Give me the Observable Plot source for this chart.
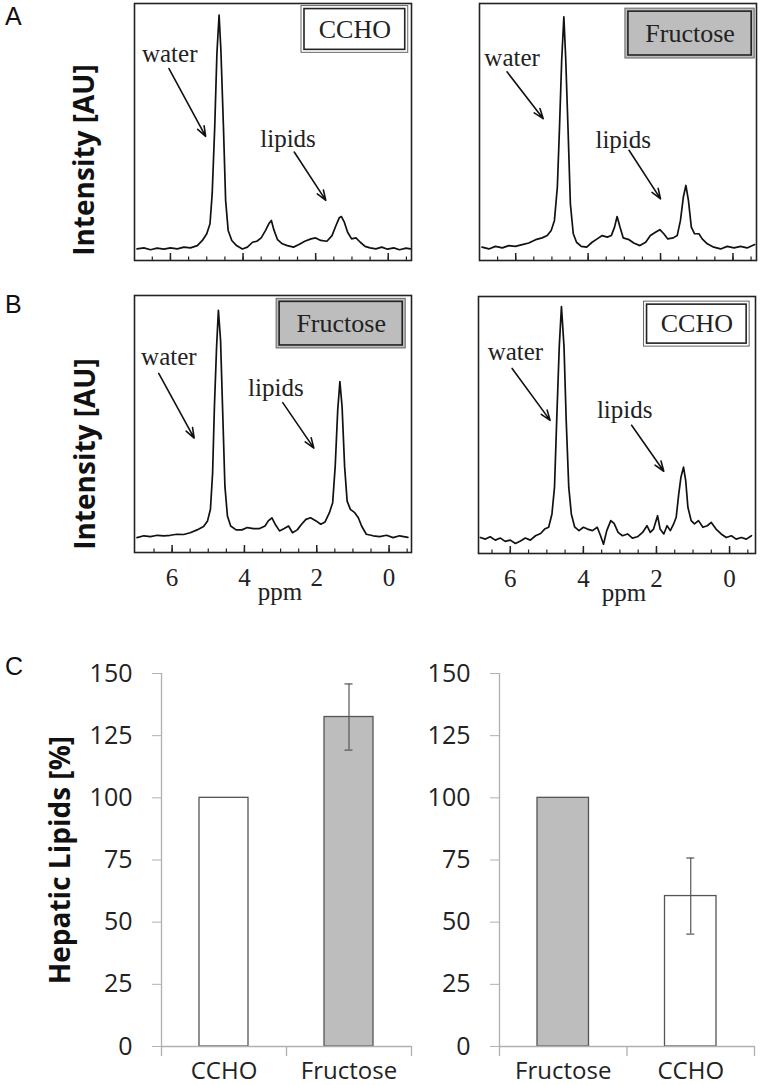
<!DOCTYPE html>
<html><head><meta charset="utf-8">
<script src="https://cdn.jsdelivr.net/npm/d3@7"></script>
<script src="https://cdn.jsdelivr.net/npm/@observablehq/plot@0.6"></script>
<style>
body{margin:0;background:#fff;}
#fig{position:relative;width:762px;height:1085px;overflow:hidden;background:#fff;}
.letter{font-family:"Liberation Sans",Arial,sans-serif;font-size:25px;line-height:1;color:#111;}
.ylab{font-family:"Open Sans",sans-serif;font-weight:700;font-size:28px;line-height:1;color:#111;white-space:nowrap;transform:translate(-50%,-50%) rotate(-90deg);}
svg{overflow:visible;}
</style></head>
<body><div id="fig"></div>
<script>
// ---------- Spectra data (ppm, intensity AU 0-100) ----------
const specA1_ppm = [6.92,6.73,6.55,6.37,6.18,6.00,5.81,5.63,5.45,5.26,5.12,5.00,4.91,4.85,4.78,4.72,4.66,4.61,4.54,4.48,4.41,4.31,4.18,4.02,3.88,3.74,3.62,3.50,3.38,3.28,3.22,3.15,3.05,2.92,2.78,2.61,2.46,2.30,2.13,2.00,1.86,1.69,1.55,1.44,1.35,1.29,1.21,1.12,1.01,0.89,0.77,0.64,0.50,0.34,0.18,0.02,-0.15,-0.31,-0.49,-0.61];
const specA1_int = [4.5,4.9,4.2,4.8,4.4,4.9,4.5,5.2,4.9,5.8,7.8,10.4,14.3,26,52,80.5,95.5,81.8,52,23.4,11.7,7.8,5.8,4.5,5.2,7.1,7.5,8.8,11.7,14.5,15.6,11.9,8.1,6.5,5.8,5.2,6.2,7.5,8.4,8.8,7.8,7.5,9.7,13.6,16.6,17.1,14.9,11.0,8.4,8.8,7.1,5.5,4.9,4.5,5.2,4.4,4.9,4.2,4.8,4.5];

const specA2_ppm = [6.93,6.74,6.56,6.37,6.19,6.01,5.82,5.64,5.45,5.27,5.13,5.02,4.93,4.85,4.79,4.73,4.67,4.62,4.55,4.49,4.41,4.32,4.19,4.04,3.89,3.75,3.61,3.47,3.36,3.27,3.20,3.12,3.03,2.87,2.74,2.57,2.41,2.28,2.14,2.02,1.91,1.80,1.65,1.54,1.45,1.37,1.30,1.23,1.15,1.06,0.94,0.85,0.71,0.53,0.34,0.16,-0.03,-0.21,-0.39,-0.60];
const specA2_int = [5.2,4.5,5.5,4.9,5.8,5.5,6.2,6.8,8.1,8.8,9.7,11.7,15.6,28.6,52,78,94.8,79,49,22,10.4,7.1,5.5,5.2,7.1,8.4,9.7,9.1,9.7,13,17.1,13,8.8,8.1,6.8,5.8,7.1,9.7,11,12,10.4,8.4,8.8,9.7,15.6,24.7,29.2,23.4,13,10.4,10.4,8.4,6.5,5.2,4.5,5.5,4.9,5.5,4.9,6.2];

const specB1_ppm = [6.97,6.78,6.60,6.41,6.23,6.05,5.86,5.68,5.50,5.31,5.13,5.02,4.94,4.88,4.83,4.77,4.72,4.66,4.60,4.54,4.47,4.38,4.23,4.07,3.92,3.75,3.58,3.43,3.34,3.24,3.15,3.03,2.90,2.78,2.67,2.54,2.42,2.30,2.17,2.02,1.89,1.77,1.65,1.56,1.49,1.42,1.36,1.30,1.23,1.16,1.07,0.95,0.85,0.76,0.63,0.44,0.26,0.07,-0.11,-0.29,-0.52];
const specB1_int = [5.8,6.5,6.2,6.7,6.5,6.7,7.1,7.0,7.7,8.8,10.1,12.3,16.8,31,56.8,80,94.2,82.6,54.2,25.8,14.2,10.3,8.8,8.8,9.7,9.3,9.3,10.3,12.3,13.5,11,8.4,9.3,10.3,7.7,8.8,11,12.9,13.5,12.3,11,11.9,15.5,19.4,33.5,55.5,66.5,56.8,33.5,20,16.8,15.5,13.5,10.3,7.1,6.5,6.2,6.7,5.8,6.5,5.9];

const specB2_ppm = [6.82,6.68,6.55,6.41,6.27,6.14,6.00,5.86,5.72,5.59,5.45,5.31,5.17,5.06,4.95,4.86,4.79,4.73,4.66,4.60,4.53,4.47,4.40,4.33,4.24,4.12,4.00,3.89,3.75,3.62,3.53,3.45,3.36,3.25,3.16,3.05,2.93,2.79,2.66,2.52,2.38,2.26,2.17,2.08,1.97,1.90,1.80,1.71,1.62,1.53,1.46,1.39,1.33,1.26,1.20,1.14,1.05,0.96,0.85,0.73,0.61,0.50,0.37,0.23,0.09,-0.05,-0.18,-0.32,-0.46,-0.60];
const specB2_int = [6.25,5.6,6.5,5.2,6.0,4.7,5.2,3.9,4.9,6.0,5.2,6.9,7.8,9.5,10.2,15.4,25.8,51.8,80.5,96.1,80.5,51.8,25.8,15.4,10.4,8.9,10.2,9.5,8.9,10.2,6.9,3.6,8.9,12.8,11.7,8.2,6.9,7.6,6.0,6.5,8.2,10.8,8.2,9.5,14.7,9.5,7.6,10.8,8.9,11.5,14.1,23.2,29.7,33.6,28.4,18,12.8,11.5,12.8,10.2,10.8,12.1,9.5,7.6,6.2,6.9,5.6,6.25,5.6,6.9];

// ppm axis ticks
const ppmMinorTicks = [6.5,6,5.5,5,4.5,4,3.5,3,2.5,2,1.5,1,0.5,0,-0.5];
const ppmMajorTicks = [6,4,2,0];

// legend boxes and annotations (ppm, intensity)
const legendA1 = {label:"CCHO", x1:2.39, x2:-0.55, y1:80.8, y2:99, fill:"#ffffff"};
const legendA2 = {label:"Fructose", x1:2.97, x2:-0.60, y1:78.6, y2:98, fill:"#bdbdbd"};
const legendB1 = {label:"Fructose", x1:3.11, x2:-0.46, y1:79.4, y2:98.7, fill:"#bdbdbd"};
const legendB2 = {label:"CCHO", x1:2.34, x2:-0.55, y1:80.5, y2:98, fill:"#ffffff"};

const labelsA1 = [{text:"water", x:6.02, y:80.5}, {text:"lipids", x:2.76, y:47.4}];
const labelsA2 = [{text:"water", x:6.10, y:78.6}, {text:"lipids", x:3.03, y:46.8}];
const labelsB1 = [{text:"water", x:6.09, y:76.1}, {text:"lipids", x:3.13, y:63.9}];
const labelsB2 = [{text:"water", x:5.86, y:78.5}, {text:"lipids", x:2.87, y:55.7}];

const arrowsA1 = [{x1:6.04,y1:74.7,x2:5.03,y2:48.3},{x1:2.59,y1:42.2,x2:1.72,y2:23.4}];
const arrowsA2 = [{x1:6.24,y1:73.4,x2:5.24,y2:55.2},{x1:2.87,y1:42.9,x2:2.0,y2:24}];
const arrowsB1 = [{x1:6.37,y1:69.7,x2:5.39,y2:44.5},{x1:2.94,y1:58.3,x2:2.08,y2:40.6}];
const arrowsB2 = [{x1:5.95,y1:72,x2:4.91,y2:51.8},{x1:2.68,y1:49.9,x2:1.80,y2:32}];

// ---------- Bar data (Hepatic lipids %) ----------
const barCatsL = ["CCHO","Fructose"];
const barValsL = [100, 132.5];
const barErrL  = [0, 13.3];
const barCatsR = ["Fructose","CCHO"];
const barValsR = [100, 60.5];
const barErrR  = [0, 15.3];
const barFill = {CCHO:"#ffffff", Fructose:"#bdbdbd"};
const pctTicks = [0,25,50,75,100,125,150];

const SERIF = "'Liberation Serif','Times New Roman',serif";
const SANS = "'Open Sans',sans-serif";
const fig = document.getElementById("fig");

function place(node, left, top){
  node.style.position = "absolute";
  node.style.left = left + "px";
  node.style.top = top + "px";
  fig.appendChild(node);
}

function spectrum({ppm, inten, domain, legend, labels, arrows, showLabels, left, top}){
  const data = ppm.map((p,i)=>({ppm:p, int:inten[i]}));
  const frameW = 277, frameH = 257;
  const mb = showLabels ? 64 : 2;
  const plot = Plot.plot({
    width: frameW + 4, height: frameH + 2 + mb,
    marginLeft: 2, marginRight: 2, marginTop: 2, marginBottom: mb,
    x: {domain, axis: null, label: null},
    y: {domain: [0,100], axis: null, label: null},
    style: {background: "transparent", overflow: "visible"},
    marks: [
      Plot.rect([legend], {x1:"x1", x2:"x2", y1:"y1", y2:"y2", fill: legend.fill, stroke:"#666", strokeWidth:1}),
      Plot.rect([legend], {x1:"x1", x2:"x2", y1:"y1", y2:"y2", fill:"none", stroke:"#222", strokeWidth:1.6, inset:3}),
      Plot.text([legend], {x: d=>(d.x1+d.x2)/2, y: d=>(d.y1+d.y2)/2, text:"label", fontSize:26, fontFamily:SERIF, fill:"#222"}),
      Plot.line(data, {x:"ppm", y:"int", stroke:"#111", strokeWidth:1.7, strokeLinejoin:"round"}),
      Plot.text(labels, {x:"x", y:"y", text:"text", fontSize:25, fontFamily:SERIF, fill:"#222"}),
      Plot.arrow(arrows, {x1:"x1", y1:"y1", x2:"x2", y2:"y2", stroke:"#111", strokeWidth:1.6, headLength:10, headAngle:40}),
      Plot.ruleX(ppmMinorTicks, {insetTop: frameH - 3.5, stroke:"#222", strokeWidth:1.2}),
      Plot.ruleX(ppmMajorTicks, {insetTop: frameH - 7, stroke:"#222", strokeWidth:1.5}),
      Plot.frame({stroke:"#222", strokeWidth:1.6}),
      showLabels ? Plot.axisX(ppmMajorTicks, {tickSize:0, tickPadding:16, fontSize:25, fontFamily:SERIF, fill:"#222", label:null}) : null,
      showLabels ? Plot.text(["ppm"], {text: d=>d, frameAnchor:"bottom", dy:47, dx:7, fontSize:25, fontFamily:SERIF, fill:"#222"}) : null
    ]
  });
  place(plot, left - 2, top - 2);
}

function bars({cats, vals, errs, left, top, marginLeft, frameW, width}){
  const data = cats.map((c,i)=>({cat:c, i0:i, i1:i+1, mid:i+0.5, value:vals[i], err:errs[i], lo:vals[i]-errs[i], hi:vals[i]+errs[i], fill:barFill[c]}));
  const errData = data.filter(d=>d.err>0);
  const frameH = 373;
  const plot = Plot.plot({
    width, height: 20 + frameH + 36,
    marginLeft, marginRight: width - marginLeft - frameW, marginTop: 20, marginBottom: 36,
    x: {domain:[0, cats.length], axis:null, label:null},
    y: {domain:[0,150], axis:null, label:null},
    color: {type:"identity"},
    style: {background:"transparent", overflow:"visible"},
    marks: [
      Plot.rect(data, {x1:"i0", x2:"i1", y1: () => 0, y2:"value", insetLeft:38, insetRight:38, fill:"fill", stroke:"#555", strokeWidth:1.3}),
      Plot.ruleX(errData, {x:"mid", y1:"lo", y2:"hi", stroke:"#555", strokeWidth:1.2}),
      Plot.ruleY(errData, {y:"hi", x1:"mid", x2:"mid", insetLeft:-4, insetRight:-4, stroke:"#555", strokeWidth:1.2}),
      Plot.ruleY(errData, {y:"lo", x1:"mid", x2:"mid", insetLeft:-4, insetRight:-4, stroke:"#555", strokeWidth:1.2}),
      Plot.ruleX([0], {stroke:"#b0b0b0", strokeWidth:1.3}),
      Plot.ruleY([0], {stroke:"#b0b0b0", strokeWidth:1.3}),
      Plot.ruleX(d3.range(cats.length + 1), {insetTop: frameH, insetBottom: -10, stroke:"#b0b0b0", strokeWidth:1.3}),
      Plot.axisY(pctTicks, {tickSize:9, tickPadding:20, stroke:"#b0b0b0", fill:"#222", fontSize:25, fontFamily:SANS, label:null}),
      Plot.axisX(data.map(d=>d.mid), {tickSize:0, tickPadding:15, tickFormat: m => cats[Math.floor(m)], fontSize:24, fontFamily:SANS, fill:"#222", label:null})
    ]
  });
  place(plot, left, top);
}

spectrum({ppm:specA1_ppm, inten:specA1_int, domain:[6.99,-0.64], legend:legendA1, labels:labelsA1, arrows:arrowsA1, showLabels:false, left:134, top:3});
spectrum({ppm:specA2_ppm, inten:specA2_int, domain:[7.0,-0.65], legend:legendA2, labels:labelsA2, arrows:arrowsA2, showLabels:false, left:479, top:3});
spectrum({ppm:specB1_ppm, inten:specB1_int, domain:[7.04,-0.62], legend:legendB1, labels:labelsB1, arrows:arrowsB1, showLabels:true, left:134, top:295});
spectrum({ppm:specB2_ppm, inten:specB2_int, domain:[6.87,-0.71], legend:legendB2, labels:labelsB2, arrows:arrowsB2, showLabels:true, left:478, top:296});

bars({cats:barCatsL, vals:barValsL, errs:barErrL, left:0, top:653, marginLeft:161, frameW:250, width:421});
bars({cats:barCatsR, vals:barValsR, errs:barErrR, left:400, top:653, marginLeft:99, frameW:255, width:362});

// panel letters and y labels
function html(cls, text, left, top){
  const d = document.createElement("div");
  d.className = cls; d.textContent = text;
  place(d, left, top);
}
html("letter", "A", 5, 4);
html("letter", "B", 5, 292);
html("letter", "C", 5, 654);
html("ylab", "Intensity [AU]", 83, 160);
html("ylab", "Intensity [AU]", 84, 454);
html("ylab", "Hepatic Lipids [%]", 59, 860);
</script></body></html>
